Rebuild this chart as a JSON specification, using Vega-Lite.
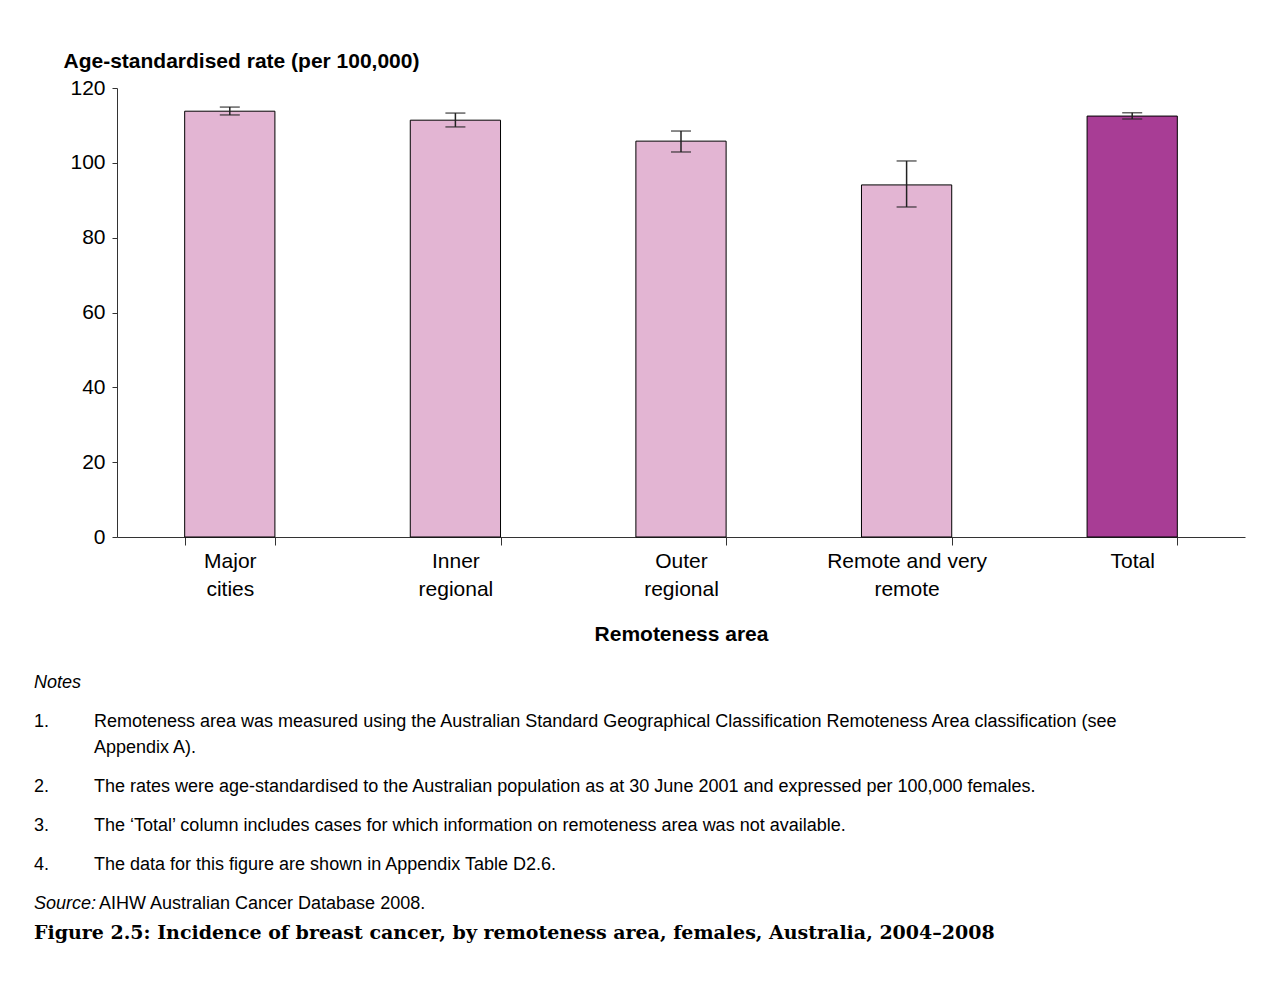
{
  "$schema": "https://vega.github.io/schema/vega-lite/v6.json",
  "autosize": {"type": "pad"},
  "padding": {"left": 34, "top": 50, "right": 10, "bottom": 10},
  "background": "white",
  "bounds": "flush",
  "spacing": 146,
  "config": {
    "view": {"stroke": null},
    "font": "Liberation Sans",
    "axis": {"labelFont": "Liberation Sans", "titleFont": "Liberation Sans", "labelColor": "black", "titleColor": "black", "grid": false},
    "text": {"font": "Liberation Sans"}
  },
  "title": {
    "text": "Figure 2.5: Incidence of breast cancer, by remoteness area, females, Australia, 2004–2008",
    "orient": "bottom",
    "anchor": "start",
    "font": "DejaVu Serif",
    "fontSize": 19,
    "fontWeight": "bold",
    "color": "black",
    "offset": 11
  },
  "vconcat": [
    {
      "width": 1128,
      "height": 449,
      "data": {
        "values": [
          {"area": "Major cities", "group": "area", "rate": 113.8, "lo": 112.8, "hi": 114.9},
          {"area": "Inner regional", "group": "area", "rate": 111.4, "lo": 109.6, "hi": 113.3},
          {"area": "Outer regional", "group": "area", "rate": 105.8, "lo": 102.9, "hi": 108.5},
          {"area": "Remote and very remote", "group": "area", "rate": 94.1, "lo": 88.2, "hi": 100.5},
          {"area": "Total", "group": "total", "rate": 112.5, "lo": 111.7, "hi": 113.4}
        ]
      },
      "encoding": {
        "x": {
          "field": "area",
          "type": "nominal",
          "sort": null,
          "scale": {"paddingInner": 0.6, "paddingOuter": 0.3},
          "axis": {
            "title": "Remoteness area",
            "titleFontSize": 21,
            "titleFontWeight": "bold",
            "titlePadding": 24,
            "labelAngle": 0,
            "labelFontSize": 21,
            "labelLineHeight": 28,
            "labelPadding": 5,
            "labelExpr": "datum.value == 'Major cities' ? ['Major','cities'] : datum.value == 'Inner regional' ? ['Inner','regional'] : datum.value == 'Outer regional' ? ['Outer','regional'] : datum.value == 'Remote and very remote' ? ['Remote and very','remote'] : datum.value",
            "tickBand": "extent",
            "tickSize": 8,
            "tickColor": "#333",
            "domainColor": "#333"
          }
        }
      },
      "layer": [
        {
          "mark": {"type": "bar", "stroke": "black", "strokeWidth": 1},
          "encoding": {
            "y": {
              "field": "rate",
              "type": "quantitative",
              "scale": {"domain": [0, 120]},
              "axis": {
                "title": "Age-standardised rate (per 100,000)",
                "titleAngle": 0,
                "titleAlign": "left",
                "titleAnchor": null,
                "titleX": -54,
                "titleY": -21,
                "titleBaseline": "alphabetic",
                "titleFontSize": 21,
                "titleFontWeight": "bold",
                "values": [0, 20, 40, 60, 80, 100, 120],
                "labelFontSize": 21,
                "labelPadding": 7,
                "tickSize": 5,
                "tickColor": "#333",
                "domainColor": "#333"
              }
            },
            "color": {
              "field": "group",
              "type": "nominal",
              "scale": {"domain": ["area", "total"], "range": ["#E3B5D3", "#A83D95"]},
              "legend": null
            }
          }
        },
        {
          "mark": {"type": "rule", "color": "#222", "strokeWidth": 1.5},
          "encoding": {
            "y": {"field": "lo", "type": "quantitative"},
            "y2": {"field": "hi"}
          }
        },
        {
          "mark": {"type": "tick", "color": "#222", "thickness": 1.5, "size": 20},
          "encoding": {"y": {"field": "lo", "type": "quantitative"}}
        },
        {
          "mark": {"type": "tick", "color": "#222", "thickness": 1.5, "size": 20},
          "encoding": {"y": {"field": "hi", "type": "quantitative"}}
        }
      ]
    },
    {
      "width": 1128,
      "height": 221,
      "data": {
        "values": [
          {"line": 0, "part": "head", "text": "Notes"},
          {"line": 3, "part": "num", "text": "1."},
          {"line": 3, "part": "body", "text": "Remoteness area was measured using the Australian Standard Geographical Classification Remoteness Area classification (see"},
          {"line": 5, "part": "body", "text": "Appendix A)."},
          {"line": 8, "part": "num", "text": "2."},
          {"line": 8, "part": "body", "text": "The rates were age-standardised to the Australian population as at 30 June 2001 and expressed per 100,000 females."},
          {"line": 11, "part": "num", "text": "3."},
          {"line": 11, "part": "body", "text": "The ‘Total’ column includes cases for which information on remoteness area was not available."},
          {"line": 14, "part": "num", "text": "4."},
          {"line": 14, "part": "body", "text": "The data for this figure are shown in Appendix Table D2.6."},
          {"line": 17, "part": "head", "text": "Source:"},
          {"line": 17, "part": "source", "text": "AIHW Australian Cancer Database 2008."}
        ]
      },
      "encoding": {
        "y": {"field": "line", "type": "quantitative", "scale": {"domain": [0, 17], "reverse": true}, "axis": null},
        "x": {"value": 0},
        "text": {"field": "text", "type": "nominal"}
      },
      "layer": [
        {
          "transform": [{"filter": "datum.part == 'head'"}],
          "mark": {"type": "text", "align": "left", "baseline": "middle", "fontSize": 18, "fontStyle": "italic", "color": "black", "dx": -83}
        },
        {
          "transform": [{"filter": "datum.part == 'num'"}],
          "mark": {"type": "text", "align": "left", "baseline": "middle", "fontSize": 18, "color": "black", "dx": -83}
        },
        {
          "transform": [{"filter": "datum.part == 'body'"}],
          "mark": {"type": "text", "align": "left", "baseline": "middle", "fontSize": 18, "color": "black", "dx": -23}
        },
        {
          "transform": [{"filter": "datum.part == 'source'"}],
          "mark": {"type": "text", "align": "left", "baseline": "middle", "fontSize": 18, "color": "black", "dx": -18}
        }
      ]
    }
  ]
}
